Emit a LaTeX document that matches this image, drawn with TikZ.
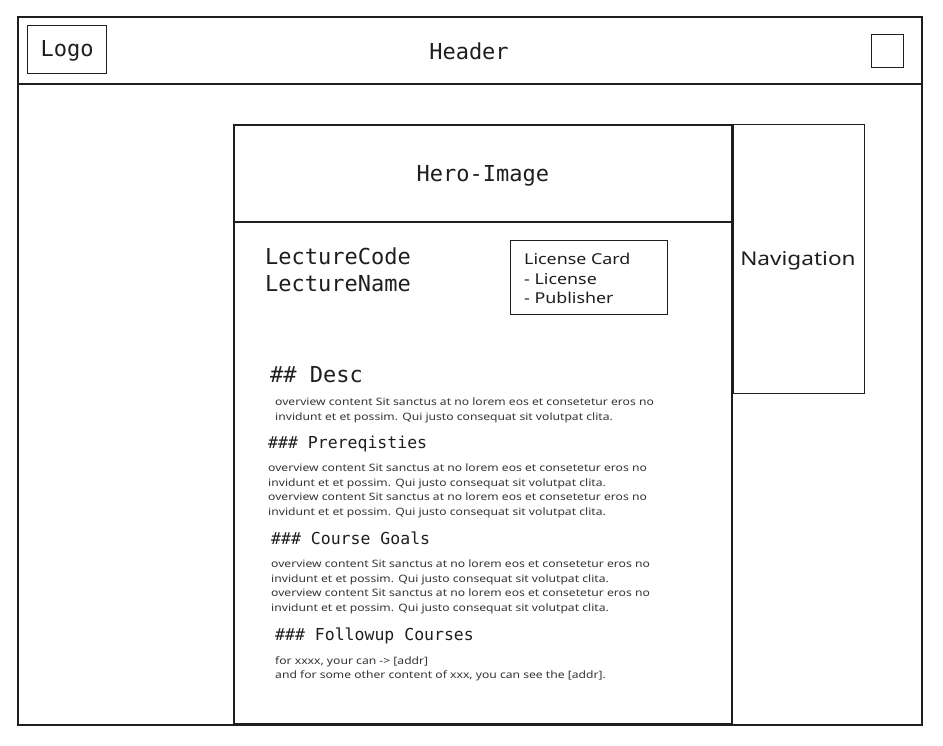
\documentclass[tikz,border=0pt]{standalone}
\usepackage{fontspec}
\setmainfont{Noto Sans}
\newfontfamily\codefont{DejaVu Sans Mono}
\newfontfamily\notefont[FakeStretch=1.19]{Noto Sans}
\definecolor{ink}{HTML}{1E1E1E}
\begin{document}
\begin{tikzpicture}[x=1pt,y=-1pt,
  frame/.style={draw=ink,line width=1.6pt,inner sep=0pt,anchor=north west},
  box/.style={draw=ink,line width=1.1pt,inner sep=0pt,anchor=north west},
  code/.style={font=\codefont\fontsize{22}{27}\selectfont,text=ink,inner sep=0pt,align=left},
  subhead/.style={font=\codefont\fontsize{16.5}{20}\selectfont,text=ink,inner sep=0pt,anchor=west},
  note/.style={font=\notefont\fontsize{15}{19.5}\selectfont,text=ink,inner sep=0pt,align=left},
  body/.style={font=\notefont\fontsize{10.2}{14.4}\selectfont,text=ink!90,inner sep=0pt,align=left,anchor=north west}]
\useasboundingbox[fill=white] (0,0) rectangle (943,746);

% page frame and header bar
\node[frame,minimum width=904pt,minimum height=708pt] (page) at (17,16) {};
\node[frame,minimum width=904pt,minimum height=67pt] (header) at (17,16) {};
\node[box,minimum width=79pt,minimum height=48pt] (logo) at (27,25) {};
\node[code] at ([yshift=-1pt]logo.center) {Logo};
\node[code] (headertext) at (469,51) {Header};
\node[box,minimum width=32pt,minimum height=33pt] (menu) at (871,34) {};

% main content column
\node[frame,minimum width=498pt,minimum height=599pt] (main) at (233,124) {};
\node[frame,minimum width=498pt,minimum height=97pt] (hero) at (233,124) {};
\node[code] at ([yshift=-3pt]hero.center) {Hero-Image};

% side navigation
\node[box,minimum width=131pt,minimum height=269pt] (nav) at (733,124) {};
\node[note,font=\notefont\fontsize{19}{22}\selectfont] at (798,261) {Navigation};

% lecture title
\node[code,anchor=north west] (title) at (265,248) {LectureCode\\LectureName};

% license card
\node[box,minimum width=157pt,minimum height=74pt] (license) at (510,240) {};
\node[note,anchor=north west] (licensetext) at (524,253) {License Card\\- License\\- Publisher};

% description
\node[code,anchor=west] (desc) at (270,375) {\#\# Desc};
\node[body] (desctext) at (275,398) {overview content Sit sanctus at no lorem eos et consetetur eros no\\invidunt et et possim. Qui justo consequat sit volutpat clita.};

% prerequisites
\node[subhead] (prereq) at (268,444) {\#\#\# Prereqisties};
\node[body] (prereqtext) at (268,464) {overview content Sit sanctus at no lorem eos et consetetur eros no\\invidunt et et possim. Qui justo consequat sit volutpat clita.\\overview content Sit sanctus at no lorem eos et consetetur eros no\\invidunt et et possim. Qui justo consequat sit volutpat clita.};

% course goals
\node[subhead] (goals) at (271,538) {\#\#\# Course Goals};
\node[body] (goalstext) at (271,560) {overview content Sit sanctus at no lorem eos et consetetur eros no\\invidunt et et possim. Qui justo consequat sit volutpat clita.\\overview content Sit sanctus at no lorem eos et consetetur eros no\\invidunt et et possim. Qui justo consequat sit volutpat clita.};

% follow-up courses
\node[subhead] (followup) at (275,636) {\#\#\# Followup Courses};
\node[body] (followuptext) at (275,656) {for xxxx, your can -> [addr]\\and for some other content of xxx, you can see the [addr].};
\end{tikzpicture}
\end{document}
